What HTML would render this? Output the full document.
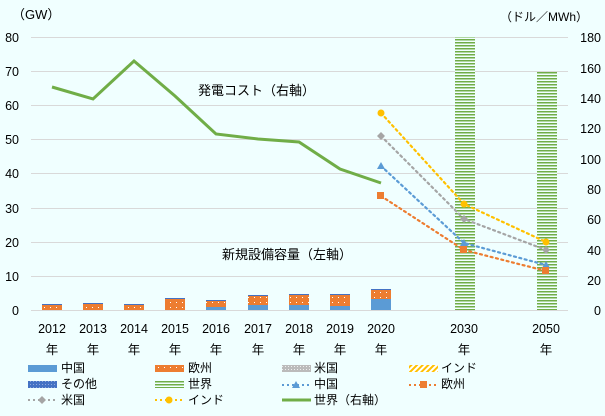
<!DOCTYPE html>
<html><head><meta charset="utf-8"><style>
html,body{margin:0;padding:0;background:#f0ffff;}
svg{display:block;font-family:"Liberation Sans","Noto Sans CJK JP",sans-serif;}
</style></head><body>
<svg width="605" height="416" viewBox="0 0 605 416" xmlns="http://www.w3.org/2000/svg">
<defs>
<pattern id="hz" width="4" height="3" patternUnits="userSpaceOnUse"><rect width="4" height="3" fill="#f0ffff"/><rect width="4" height="1.5" fill="#70ad47"/></pattern>
<pattern id="dots" width="6" height="5" patternUnits="userSpaceOnUse"><rect width="6" height="5" fill="#ed7d31"/><rect x="2" y="2" width="1" height="1" fill="#fff"/></pattern>
<pattern id="gr" width="3" height="3" patternUnits="userSpaceOnUse"><rect width="3" height="3" fill="#bbb"/><rect width="1" height="1" fill="#eee"/></pattern>
<pattern id="yl" width="4" height="4" patternUnits="userSpaceOnUse" patternTransform="rotate(45)"><rect width="4" height="4" fill="#fff"/><rect width="2" height="4" fill="#ffc000"/></pattern>
<pattern id="bl" width="3" height="3" patternUnits="userSpaceOnUse"><rect width="3" height="3" fill="#4472c4"/><rect width="1" height="1" fill="#8fa8dc"/></pattern>
</defs>
<rect width="605" height="416" fill="#f0ffff"/>
<g stroke="#d9d9d9" stroke-width="1">
<line x1="31" x2="568" y1="310.5" y2="310.5"/><line x1="31" x2="568" y1="276.5" y2="276.5"/><line x1="31" x2="568" y1="242.5" y2="242.5"/><line x1="31" x2="568" y1="208.5" y2="208.5"/><line x1="31" x2="568" y1="173.5" y2="173.5"/><line x1="31" x2="568" y1="139.5" y2="139.5"/><line x1="31" x2="568" y1="105.5" y2="105.5"/><line x1="31" x2="568" y1="71.5" y2="71.5"/><line x1="31" x2="568" y1="37.5" y2="37.5"/>
</g>
<g font-size="12.5" fill="#000">
<text x="12" y="19" font-size="13">（GW）</text>
<text x="500" y="21" font-size="12">（ドル／MWh）</text>
<g text-anchor="end"><text x="19" y="315">0</text><text x="19" y="281">10</text><text x="19" y="247">20</text><text x="19" y="213">30</text><text x="19" y="178">40</text><text x="19" y="144">50</text><text x="19" y="110">60</text><text x="19" y="76">70</text><text x="19" y="42">80</text></g>
<g text-anchor="end"><text x="601" y="315">0</text><text x="601" y="285">20</text><text x="601" y="255">40</text><text x="601" y="224">60</text><text x="601" y="194">80</text><text x="601" y="164">100</text><text x="601" y="133">120</text><text x="601" y="103">140</text><text x="601" y="73">160</text><text x="601" y="42">180</text></g>
<g text-anchor="middle">
<text x="52" y="333">2012</text><text x="93" y="333">2013</text><text x="134" y="333">2014</text><text x="175" y="333">2015</text><text x="216" y="333">2016</text><text x="258" y="333">2017</text><text x="299" y="333">2018</text><text x="340" y="333">2019</text><text x="381" y="333">2020</text><text x="464" y="333">2030</text><text x="546" y="333">2050</text>
<text x="52" y="354">年</text><text x="93" y="354">年</text><text x="134" y="354">年</text><text x="175" y="354">年</text><text x="216" y="354">年</text><text x="258" y="354">年</text><text x="299" y="354">年</text><text x="340" y="354">年</text><text x="381" y="354">年</text><text x="464" y="354">年</text><text x="546" y="354">年</text>
</g>
<text x="198" y="95" font-size="13">発電コスト（右軸）</text>
<text x="222" y="259" font-size="13">新規設備容量（左軸）</text>
</g>
<rect x="455" y="37" width="20" height="273" fill="url(#hz)"/>
<rect x="537" y="72" width="20" height="238" fill="url(#hz)"/>
<g>
<rect x="42" y="305" width="20" height="5" fill="url(#dots)"/><rect x="42" y="304" width="20" height="1" fill="#4472c4"/>
<rect x="83" y="304" width="20" height="6" fill="url(#dots)"/><rect x="83" y="303" width="20" height="1" fill="#4472c4"/>
<rect x="124" y="305" width="20" height="5" fill="url(#dots)"/><rect x="124" y="304" width="20" height="1" fill="#4472c4"/>
<rect x="165" y="299" width="20" height="11" fill="url(#dots)"/><rect x="165" y="298" width="20" height="1" fill="#4472c4"/>
<rect x="206" y="301" width="20" height="6" fill="url(#dots)"/><rect x="206" y="307" width="20" height="3" fill="#5b9bd5"/><rect x="206" y="300" width="20" height="1" fill="#4472c4"/>
<rect x="248" y="296" width="20" height="9" fill="url(#dots)"/><rect x="248" y="305" width="20" height="5" fill="#5b9bd5"/><rect x="248" y="295" width="20" height="1" fill="#4472c4"/>
<rect x="289" y="295" width="20" height="10" fill="url(#dots)"/><rect x="289" y="305" width="20" height="5" fill="#5b9bd5"/><rect x="289" y="294" width="20" height="1" fill="#4472c4"/>
<rect x="330" y="295" width="20" height="11" fill="url(#dots)"/><rect x="330" y="306" width="20" height="4" fill="#5b9bd5"/><rect x="330" y="294" width="20" height="1" fill="#4472c4"/>
<rect x="371" y="290" width="20" height="9" fill="url(#dots)"/><rect x="371" y="299" width="20" height="11" fill="#5b9bd5"/><rect x="371" y="289" width="20" height="1" fill="#4472c4"/>
</g>
<polyline points="52,87 93,99 134,61 175,96 216,134 258,139 299,142 340,169 381,183" fill="none" stroke="#70ad47" stroke-width="3"/>
<g fill="none" stroke-width="2.2" stroke-dasharray="2,3.5" stroke-linecap="round">
<polyline points="381,113 464,204 546,242" stroke="#ffc000"/>
<polyline points="381,136 464,219 546,250" stroke="#a5a5a5"/>
<polyline points="381,166 464,243 546,265" stroke="#5b9bd5"/>
<polyline points="381,196 464,250 546,271" stroke="#ed7d31"/>
</g>
<g fill="#ffc000"><circle cx="381" cy="113" r="3.5"/><circle cx="464" cy="204" r="3.5"/><circle cx="546" cy="242" r="3.5"/></g>
<g fill="#a5a5a5"><path d="M381 132l4 4-4 4-4-4z"/><path d="M464 215l4 4-4 4-4-4z"/><path d="M546 246l4 4-4 4-4-4z"/></g>
<g fill="#5b9bd5"><path d="M381 162l4 7h-8z"/><path d="M464 239l4 7h-8z"/><path d="M546 261l4 7h-8z"/></g>
<g fill="#ed7d31"><rect x="377" y="192" width="7" height="7"/><rect x="460" y="246" width="7" height="7"/><rect x="542" y="267" width="7" height="7"/></g>
<g font-size="12" fill="#000">
<rect x="28" y="365" width="29" height="7" fill="#5b9bd5"/><text x="61" y="372">中国</text>
<rect x="155" y="365" width="29" height="7" fill="url(#dots)"/><text x="188" y="372">欧州</text>
<rect x="282" y="365" width="29" height="7" fill="url(#gr)"/><text x="314" y="372">米国</text>
<rect x="409" y="365" width="29" height="7" fill="url(#yl)"/><text x="441" y="372">インド</text>
<rect x="28" y="381" width="29" height="7" fill="url(#bl)"/><text x="61" y="388">その他</text>
<rect x="155" y="381" width="29" height="7" fill="url(#hz)"/><text x="188" y="388">世界</text>
<line x1="282" x2="311" y1="385" y2="385" stroke="#5b9bd5" stroke-width="2" stroke-dasharray="2,3"/><path d="M296 381l4 7h-8z" fill="#5b9bd5"/><text x="314" y="388">中国</text>
<line x1="409" x2="438" y1="385" y2="385" stroke="#ed7d31" stroke-width="2" stroke-dasharray="2,3"/><rect x="420" y="381" width="7" height="7" fill="#ed7d31"/><text x="441" y="388">欧州</text>
<line x1="28" x2="57" y1="400" y2="400" stroke="#a5a5a5" stroke-width="2" stroke-dasharray="2,3"/><path d="M42 396l4 4-4 4-4-4z" fill="#a5a5a5"/><text x="61" y="404">米国</text>
<line x1="155" x2="184" y1="400" y2="400" stroke="#ffc000" stroke-width="2" stroke-dasharray="2,3"/><circle cx="169" cy="400" r="3.5" fill="#ffc000"/><text x="188" y="404">インド</text>
<line x1="282" x2="311" y1="400" y2="400" stroke="#70ad47" stroke-width="3"/><text x="314" y="404">世界（右軸）</text>
</g>
</svg>
</body></html>
